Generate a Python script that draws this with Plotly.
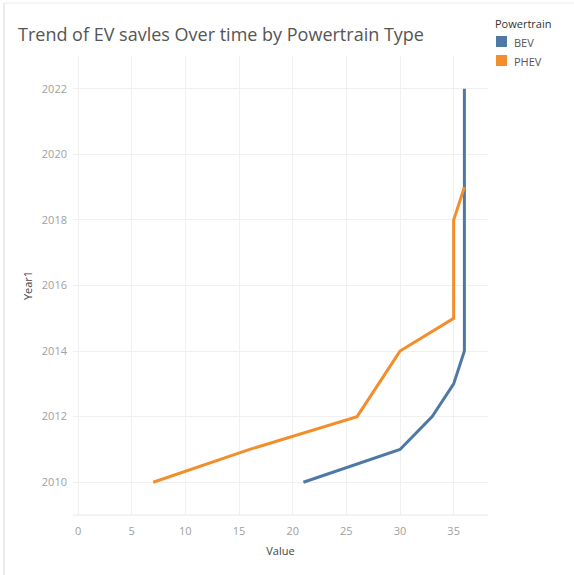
import plotly.graph_objects as go

# Yearly values per powertrain
bev_years = [2010, 2011, 2012, 2013, 2014, 2015, 2016, 2017, 2018, 2019, 2020, 2021, 2022]
bev_values = [21, 30, 33, 35, 36, 36, 36, 36, 36, 36, 36, 36, 36]

phev_years = [2010, 2011, 2012, 2013, 2014, 2015, 2016, 2017, 2018, 2019]
phev_values = [7, 16, 26, 28, 30, 35, 35, 35, 35, 36]

x_ticks = [0, 5, 10, 15, 20, 25, 30, 35]
y_ticks = [2010, 2012, 2014, 2016, 2018, 2020, 2022]

series = [("BEV", BEV_COLOR := "#4e79a7"), ("PHEV", PHEV_COLOR := "#f28e2b")]
FONT = "Open Sans"

# plot pane geometry in pixels (used to place legend items in paper units)
W, H = 574, 575
L, R, T, B = 73, 86, 56, 60
PW, PH = W - L - R, H - T - B


def px(x):
    return (x - L) / PW


def py(y):
    return (H - B - y) / PH


fig = go.Figure()

fig.add_trace(go.Scatter(x=bev_values, y=bev_years, mode="lines", name="BEV",
                         line=dict(color=BEV_COLOR, width=3), showlegend=False))
fig.add_trace(go.Scatter(x=phev_values, y=phev_years, mode="lines", name="PHEV",
                         line=dict(color=PHEV_COLOR, width=3), showlegend=False))

fig.update_layout(
    width=W, height=H,
    margin=dict(l=L, r=R, t=T, b=B),
    paper_bgcolor="white", plot_bgcolor="white",
    font=dict(family=FONT, color="#555555"),
    showlegend=False,
    title=dict(text="Trend of EV savles Over time by Powertrain Type",
               x=18 / W, xanchor="left", y=1 - 35 / H, yanchor="middle",
               font=dict(size=18, color="#555555", family=FONT)),
    xaxis=dict(range=[-0.47, 38.2], tickvals=x_ticks, showgrid=True,
               gridcolor="#f0f0f0", zeroline=False, showline=False,
               ticks="", ticklabelstandoff=8, tickfont=dict(size=11, color="#a0a0a0"),
               title=dict(text="Value", font=dict(size=11, color="#444444"), standoff=10)),
    yaxis=dict(range=[2009, 2023], tickvals=y_ticks, showgrid=True,
               gridcolor="#f0f0f0", zeroline=False, showline=False,
               ticks="", ticklabelstandoff=5, tickfont=dict(size=11, color="#a0a0a0"),
               title=dict(text="Year1", font=dict(size=11, color="#444444"), standoff=6)),
)

# legend: title, colour squares and labels
fig.add_annotation(text="Powertrain", xref="paper", yref="paper", x=px(493), y=py(24),
                   xanchor="left", yanchor="middle", showarrow=False,
                   font=dict(size=11, color="#333333"))
for i, (name, color) in enumerate(series):
    cy = 42 + i * 19
    fig.add_shape(type="rect", xref="paper", yref="paper",
                  x0=px(496), x1=px(507), y0=py(cy - 6), y1=py(cy + 5),
                  fillcolor=color, line=dict(width=0))
    fig.add_annotation(text=name, xref="paper", yref="paper", x=px(512), y=py(cy),
                       xanchor="left", yanchor="middle", showarrow=False,
                       font=dict(size=11, color="#555555"))

# bottom baseline of the pane and outer sheet border
fig.add_shape(type="line", xref="paper", yref="paper", x0=0, x1=1, y0=0, y1=0,
              line=dict(color="#e8e8e8", width=1))
fig.add_shape(type="line", xref="paper", yref="paper",
              x0=px(4), x1=px(4), y0=py(575), y1=py(3),
              line=dict(color="#d8d8d8", width=1))
fig.add_shape(type="line", xref="paper", yref="paper",
              x0=px(4), x1=px(574), y0=py(3), y1=py(3),
              line=dict(color="#ececec", width=1))

fig.write_html("out.html")
